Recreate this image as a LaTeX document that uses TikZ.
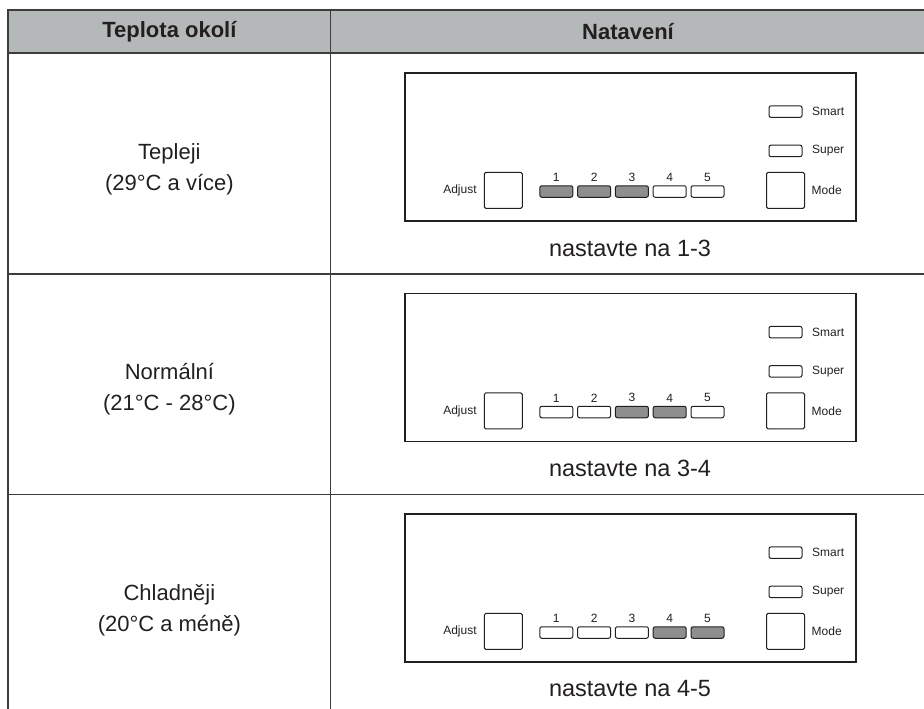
\documentclass[tikz,border=0pt]{standalone}
\usepackage{fontspec}
\setmainfont{Liberation Sans}
\usepackage{xcolor}
\usetikzlibrary{positioning}
\definecolor{headgrey}{RGB}{180, 184, 184}
\definecolor{ledgrey}{RGB}{142, 142, 142}
\definecolor{rulegrey}{RGB}{60, 60, 60}
\definecolor{panelink}{RGB}{35, 31, 32}

% one control panel: name, centre y, led states
\newcommand{\ctrlpanel}[3]{%
    \node[panel] (#1) at (630.3,#2) {};
    \begin{scope}[shift={(630.3,#2)}]
        \node[btn] (#1adj) at (-127,43.5) {};
        \node[small, left=7pt of #1adj] (#1adjt) {Adjust};
        \node[btn] (#1mode) at (155.2,43.5) {};
        \node[small, right=6.5pt of #1mode] (#1modet) {Mode};
        \node[led] (#1smart) at (155.2,-35.3) {};
        \node[small, right=9.5pt of #1smart] (#1smartt) {Smart};
        \node[led] (#1super) at (155.2,4) {};
        \node[small, right=9.5pt of #1super] (#1supert) {Super};
        \foreach \i/\s in {#3} {
            \node[led, \s] (#1l\i) at ({-74+37.8*(\i-1)},44.6) {};
            \node[small, above=3.5pt of #1l\i] (#1n\i) {\i};
        }
    \end{scope}
}

\begin{document}
\begin{tikzpicture}[x=1pt, y=-1pt,
        panel/.style={draw=panelink, line width=1.4pt, minimum width=451pt, minimum height=148pt, inner sep=0pt},
        btn/.style={draw=panelink, line width=1pt, rounded corners=1.5pt, minimum width=38pt, minimum height=36pt, inner sep=0pt},
        led/.style={draw=panelink, line width=1pt, rounded corners=2pt, minimum width=33pt, minimum height=11.5pt, inner sep=0pt},
        on/.style={fill=ledgrey},
        off/.style={fill=white},
        small/.style={font=\fontsize{12}{14}\selectfont, inner sep=0pt, text=panelink},
        headtext/.style={font=\fontsize{22}{26}\selectfont\bfseries, text=panelink},
        celltext/.style={font=\fontsize{22}{31}\selectfont, align=center, text=panelink},
        settext/.style={font=\fontsize{23.5}{28}\selectfont, text=panelink}]
    \useasboundingbox (0,0) rectangle (924,709);

    % table
    \fill[headgrey] (8,10) rectangle (930,53);
    \draw[rulegrey, line width=2pt] (8,10) -- (930,10);
    \draw[rulegrey, line width=1.5pt] (8,53) -- (930,53);
    \draw[rulegrey, line width=1.3pt] (8,274) -- (930,274);
    \draw[rulegrey, line width=1.3pt] (8,494.5) -- (930,494.5);
    \draw[rulegrey, line width=1.3pt] (8,9) -- (8,720);
    \draw[rulegrey, line width=1.3pt] (330.7,10) -- (330.7,720);

    \node[headtext] (th1) at (169.4,31.5) {Teplota okolí};
    \node[headtext] (th2) at (628,31.5) {Natavení};

    \node[celltext] (r1) at (169.4,169) {Tepleji\\(29°C a více)};
    \node[celltext] (r2) at (169.4,389.5) {Normální\\(21°C - 28°C)};
    \node[celltext] (r3) at (169.4,610) {Chladněji\\(20°C a méně)};

    \ctrlpanel{p1}{146.9}{1/on,2/on,3/on,4/off,5/off}
    \ctrlpanel{p2}{367.4}{1/off,2/off,3/on,4/on,5/off}
    \ctrlpanel{p3}{587.9}{1/off,2/off,3/off,4/on,5/on}

    \node[settext] (s1) at (630,248) {nastavte na 1-3};
    \node[settext] (s2) at (630,468.5) {nastavte na 3-4};
    \node[settext] (s3) at (630,689) {nastavte na 4-5};
\end{tikzpicture}
\end{document}
